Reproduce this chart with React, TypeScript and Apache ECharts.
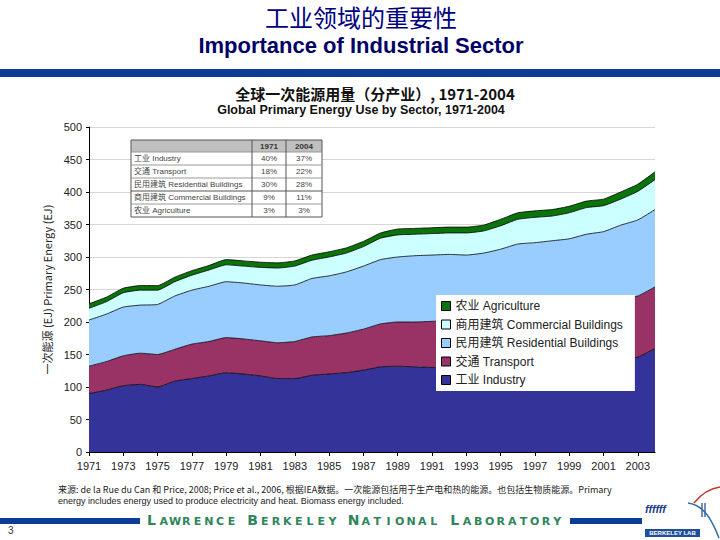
import React, { useEffect, useRef } from "react";
import * as echarts from "echarts";

const years = [
  "1971", "1972", "1973", "1974", "1975", "1976", "1977", "1978", "1979", "1980",
  "1981", "1982", "1983", "1984", "1985", "1986", "1987", "1988", "1989", "1990",
  "1991", "1992", "1993", "1994", "1995", "1996", "1997", "1998", "1999", "2000",
  "2001", "2002", "2003", "2004",
];
const industry = [90, 95, 102, 104, 100, 109, 113, 117, 122, 120, 117, 113, 113, 118, 120, 122, 126, 131, 132, 131, 130, 129, 127, 128, 131, 133, 134, 133, 134, 137, 137, 141, 146, 159];
const transport = [42, 44, 46, 48, 50, 49, 53, 53, 54, 54, 54, 55, 57, 59, 59, 61, 63, 66, 68, 69, 71, 73, 76, 78, 79, 81, 84, 87, 90, 92, 94, 94, 94, 95];
const residential = [71, 73, 75, 74, 77, 82, 83, 85, 86, 86, 86, 87, 87, 90, 92, 94, 97, 99, 100, 102, 102, 102, 100, 100, 102, 106, 104, 105, 104, 106, 108, 114, 117, 119];
const commercial = [18, 19, 22, 23, 22, 22, 23, 25, 26, 26, 27, 28, 29, 28, 29, 29, 30, 33, 34, 33, 33, 33, 34, 34, 36, 38, 39, 38, 40, 41, 40, 40, 44, 46];
const agriculture = [7, 7, 7, 7, 7, 7, 7, 7, 8, 8, 8, 8, 8, 8, 8, 8, 8, 8, 9, 9, 9, 9, 9, 9, 10, 10, 10, 10, 10, 10, 10, 11, 11, 12];

const seriesNames = [
  "工业 Industry",
  "交通 Transport",
  "民用建筑 Residential Buildings",
  "商用建筑 Commercial Buildings",
  "农业 Agriculture",
];
const seriesData = [industry, transport, residential, commercial, agriculture];
const seriesColors = ["#333399", "#993366", "#99CCFF", "#CCFFFF", "#0A730A"];

const tableHeader = ["1971", "2004"];
const tableLabels = [
  "工业 Industry",
  "交通 Transport",
  "民用建筑 Residential Buildings",
  "商用建筑 Commercial Buildings",
  "农业 Agriculture",
];
const share1971 = ["40%", "18%", "30%", "9%", "3%"];
const share2004 = ["37%", "22%", "28%", "11%", "3%"];

const mainTitleCN = "工业领域的重要性";
const mainTitleEN = "Importance of Industrial Sector";
const chartTitleCN = "全球一次能源用量（分产业）, 1971-2004";
const chartTitleEN = "Global Primary Energy Use by Sector, 1971-2004";
const yAxisName = "一次能源 (EJ) Primary Energy (EJ)";
const footer1 = "来源: de la Rue du Can 和 Price, 2008; Price et al., 2006, 根据IEA数据。一次能源包括用于生产电和热的能源。也包括生物质能源。Primary";
const footer2 = "energy includes energy used to produce electricity and heat. Biomass energy included.";
const labWords = ["LAWRENCE", "BERKELEY", "NATIONAL", "LABORATORY"];

const SANS = "'Liberation Sans', Arial, 'Noto Sans CJK SC', sans-serif";
const CJK = "'Noto Sans CJK SC', 'Liberation Sans', sans-serif";

function txt(x: number, y: number, text: string, font: string, fill: string, align = "left", extra: any = {}) {
  return {
    type: "text",
    x,
    y,
    z: 60,
    silent: true,
    style: { text, font, fill, align, verticalAlign: "middle", ...extra },
  };
}

function buildTable(): any[] {
  const x0 = 131, x1 = 252, x2 = 286, x3 = 322;
  const rows = [140, 152, 165, 178, 191, 204, 217];
  const els: any[] = [];
  els.push({ type: "rect", z: 50, shape: { x: x0, y: rows[0], width: x3 - x0, height: rows[6] - rows[0] }, style: { fill: "#fff" } });
  els.push({ type: "rect", z: 51, shape: { x: x0, y: rows[0], width: x3 - x0, height: rows[1] - rows[0] }, style: { fill: "#C0C0C0" } });
  els.push({ type: "rect", z: 52, shape: { x: x0, y: rows[0], width: x3 - x0, height: rows[6] - rows[0] }, style: { fill: "none", stroke: "#555", lineWidth: 1 } });
  for (let r = 1; r < 6; r++) {
    els.push({ type: "line", z: 52, shape: { x1: x0, y1: rows[r], x2: x3, y2: rows[r] }, style: { stroke: r === 4 ? "#555" : "#999", lineWidth: 1 } });
  }
  els.push({ type: "line", z: 52, shape: { x1: x1, y1: rows[0], x2: x1, y2: rows[6] }, style: { stroke: "#555", lineWidth: 1 } });
  els.push({ type: "line", z: 52, shape: { x1: x2, y1: rows[0], x2: x2, y2: rows[6] }, style: { stroke: "#555", lineWidth: 1 } });
  els.push(txt((x1 + x2) / 2, (rows[0] + rows[1]) / 2, tableHeader[0], `bold 8px ${SANS}`, "#333", "center"));
  els.push(txt((x2 + x3) / 2, (rows[0] + rows[1]) / 2, tableHeader[1], `bold 8px ${SANS}`, "#333", "center"));
  for (let i = 0; i < tableLabels.length; i++) {
    const cy = (rows[i + 1] + rows[i + 2]) / 2;
    els.push(txt(x0 + 3, cy, tableLabels[i], `8px ${SANS}`, "#444"));
    els.push(txt((x1 + x2) / 2, cy, share1971[i], `8px ${SANS}`, "#444", "center"));
    els.push(txt((x2 + x3) / 2, cy, share2004[i], `8px ${SANS}`, "#444", "center"));
  }
  return els;
}

function buildLabBanner(): any[] {
  const els: any[] = [];
  let x = 145;
  const big = 13, small = 11.3, space = 9;
  labWords.forEach((w, wi) => {
    for (let k = 0; k < w.length; k++) {
      const isBig = k === 0;
      const slot = isBig ? big : small;
      els.push({
        type: "text",
        x: x + slot / 2,
        y: 527,
        z: 60,
        silent: true,
        style: {
          text: w[k],
          font: `bold ${isBig ? 14 : 11}px 'DejaVu Sans', sans-serif`,
          fill: "#2F855A",
          align: "center",
          verticalAlign: "bottom",
        },
      });
      x += slot;
    }
    if (wi < labWords.length - 1) x += space;
  });
  return els;
}

export default function App() {
  const ref = useRef<HTMLDivElement>(null);
  useEffect(() => {
    if (!ref.current) return;
    const chart = echarts.init(ref.current, null, { renderer: "svg" });
    const series = seriesNames.map((name, i) => ({
      name,
      type: "line",
      stack: "total",
      data: seriesData[i],
      symbol: "none",
      smooth: 0.15,
      color: seriesColors[i],
      lineStyle: { color: "#000", width: 0.8 },
      areaStyle: { color: seriesColors[i], opacity: 1 },
      z: 2,
    }));
    const legendData = seriesNames
      .map((name, i) => ({ name, itemStyle: { color: seriesColors[i], borderColor: "#000", borderWidth: 1 } }))
      .reverse();

    const graphic: any[] = [
      txt(361, 16, mainTitleCN, `24px ${CJK}`, "#000080", "center"),
      txt(361, 45, mainTitleEN, `bold 22px ${SANS}`, "#000066", "center"),
      { type: "rect", z: 50, shape: { x: 0, y: 69, width: 720, height: 8 }, style: { fill: "#0D3B99" } },
      txt(375, 93, chartTitleCN, `bold 15px ${CJK}`, "#111", "center"),
      txt(361, 110, chartTitleEN, `bold 12.5px ${SANS}`, "#111", "center"),
      ...buildTable(),
      txt(58, 489, footer1, `9px ${CJK}`, "#222"),
      txt(58, 501, footer2, `9px ${SANS}`, "#222"),
      { type: "rect", z: 50, shape: { x: 0, y: 518, width: 140, height: 6 }, style: { fill: "#0D3B99" } },
      { type: "rect", z: 50, shape: { x: 570, y: 518, width: 72, height: 6 }, style: { fill: "#0D3B99" } },
      ...buildLabBanner(),
      txt(8, 530, "3", `10px ${SANS}`, "#333"),
      txt(645, 509, "ffffff", `italic bold 11px ${SANS}`, "#1F3F8A"),
      { type: "line", z: 50, shape: { x1: 702, y1: 503, x2: 702, y2: 517 }, style: { stroke: "#1F3F8A", lineWidth: 1.2 } },
      { type: "line", z: 50, shape: { x1: 705, y1: 503, x2: 705, y2: 517 }, style: { stroke: "#1F3F8A", lineWidth: 1.2 } },
      { type: "bezierCurve", z: 50, shape: { x1: 688, y1: 503, cpx1: 704, cpy1: 505, cpx2: 712, cpy2: 520, x2: 719, y2: 538 }, style: { stroke: "#2E6FA8", lineWidth: 1.5, fill: "none" } },
      { type: "bezierCurve", z: 50, shape: { x1: 694, y1: 503, cpx1: 703, cpy1: 492, cpx2: 712, cpy2: 488, x2: 720, y2: 487 }, style: { stroke: "#C0392B", lineWidth: 1.5, fill: "none" } },
      { type: "rect", z: 50, shape: { x: 645, y: 529, width: 55, height: 8 }, style: { fill: "#1F4E9A" } },
      txt(672.5, 533, "BERKELEY LAB", `bold 6px ${SANS}`, "#fff", "center"),
    ];

    chart.setOption({
      animation: false,
      backgroundColor: "#fff",
      grid: { left: 89, right: 65, top: 127, bottom: 88, containLabel: false },
      legend: {
        orient: "vertical",
        left: 436,
        top: 295,
        data: legendData,
        icon: "rect",
        itemWidth: 9,
        itemHeight: 9,
        itemGap: 6.5,
        backgroundColor: "#fff",
        padding: [5, 12, 5, 5],
        itemStyle: { borderColor: "#000", borderWidth: 1 },
        textStyle: { fontSize: 12, lineHeight: 12, color: "#222", fontFamily: SANS },
        selectedMode: false,
        z: 10,
      },
      xAxis: {
        type: "category",
        data: years,
        boundaryGap: false,
        axisLine: { lineStyle: { color: "#000", width: 1 } },
        axisTick: { show: true, interval: 1, length: 4, lineStyle: { color: "#000" } },
        axisLabel: { interval: 1, color: "#222", fontSize: 11, fontFamily: SANS, margin: 8 },
        splitLine: { show: false },
      },
      yAxis: {
        type: "value",
        min: 0,
        max: 500,
        interval: 50,
        name: yAxisName,
        nameLocation: "middle",
        nameGap: 36,
        nameTextStyle: { fontSize: 11, color: "#222", fontFamily: CJK },
        axisLine: { show: true, lineStyle: { color: "#000", width: 1 } },
        axisTick: { show: true, length: 3, lineStyle: { color: "#000" } },
        axisLabel: { color: "#222", fontSize: 11, fontFamily: SANS, margin: 7 },
        splitLine: { show: true, lineStyle: { color: "#D6D6D6", width: 1 } },
      },
      series,
      graphic,
    });
    return () => chart.dispose();
  }, []);
  return <div ref={ref} style={{ position: "fixed", left: 0, top: 0, width: 720, height: 540, background: "#fff" }} />;
}
